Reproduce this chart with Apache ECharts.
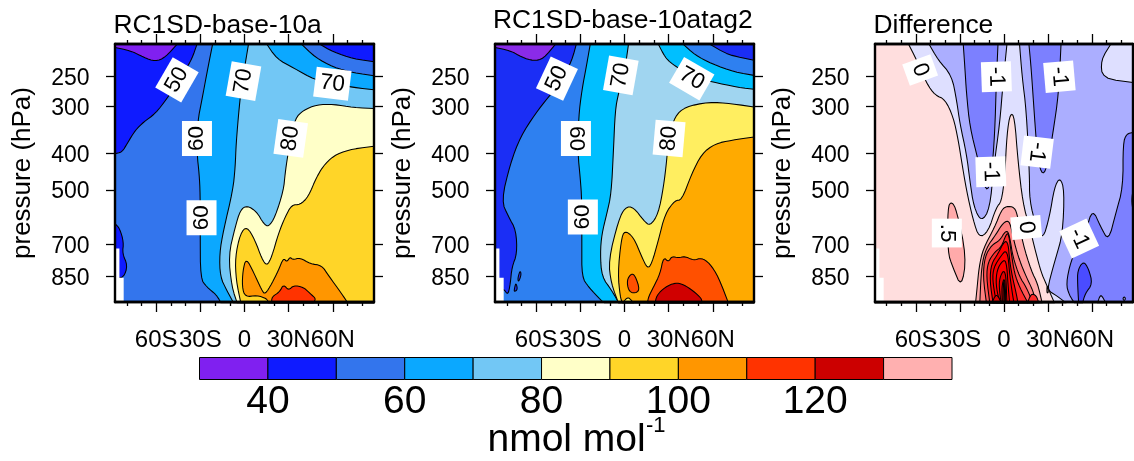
<!DOCTYPE html>
<html><head><meta charset="utf-8">
<style>html,body{margin:0;padding:0;background:#fff}#c{width:1134px;height:461px}</style>
<script src="https://cdn.jsdelivr.net/npm/echarts@6/dist/echarts.min.js"></script>
</head><body><div id="c"></div>
<script>
// ---------- data: each contour is a list of [latitude, pressure hPa] ----------
const pressureTicks=[250,300,400,500,700,850];
const latMajor=[-60,-30,0,30,60];
const latMajorLabels=['60S','30S','0','30N','60N'];
const latMinor=[-80,-70,-50,-40,-20,-10,10,20,40,50,70,80];
const missing=[[-88,717],[-85,717],[-85,857],[-82.1,857],[-82.1,1000],[-88,1000]];
const barLevels=[30,40,50,60,70,80,90,100,110,120,130,140];
const barTicks=[40,60,80,100,120];

// panel 1
const a50L=[[-32.3,205],[-35.7,224],[-40.3,240.5],[-45.9,261],[-52.7,286],[-60.6,313.5],[-68.5,330],[-74.2,347],[-79.8,377],[-83.2,397],[-88,401],[-88,205]];
const a50R=[[51.3,205],[60.4,215],[74,224],[88,228],[88,205]];
const a50S=[[-88,615],[-84.8,634],[-82.1,689],[-83,740],[-79.4,795],[-82.1,857],[-88,860]];
const a40=[[-88,209],[-77.6,213],[-68.5,222],[-60.6,228],[-53.8,222],[-45.9,205],[-88,205]];
const a60=[[-21.7,205],[-25.6,245],[-29,289],[-31.9,330],[-32.3,401],[-30.8,453],[-30.1,512],[-30.1,655],[-29.9,862],[-25.6,908],[-18.8,955],[-16.1,1000],[88,1000],[88,248.5],[74,244],[60.4,236],[48,222],[38.9,205]];
const a70=[[2.7,205],[.5,231],[-1.8,261],[-3.6,301],[-5.7,377],[-6.3,435],[-7.9,502],[-14.3,641],[-17,740],[-16.5,853],[-12,927],[-7.5,1000],[88,1000],[88,271],[74,267],[60.4,261],[48,255],[33.3,237],[21.9,224],[15.2,205]];
const a80=[[88,304],[74,302],[60.4,296],[49,297],[40,307],[34.4,323],[31.4,367],[29.2,409],[27.6,453],[26.5,502],[20.8,591],[16.3,628],[12.9,615],[8.4,573],[1.6,550],[-2.9,567],[-6.3,628],[-10.9,748],[-8.6,908],[-5,1000],[88,1000]];
const a90=[[88,383],[74,389],[62.7,401],[54.7,426],[49,462],[43.4,522],[37.8,548],[32.1,548],[27.6,591],[23,655],[18.5,755],[15.2,798],[11.8,763],[7.2,682],[1.6,625],[-2.9,655],[-6.3,755],[-5.7,871],[-2.5,1000],[88,1000]];
const a100=[[.5,965],[8.4,955],[15.2,975],[16.3,1000],[70.1,1000],[66,945],[57,845],[52.5,795],[44.6,787],[37.8,759],[32.8,768],[31,755],[28.7,779],[26.5,759],[23,820],[18.5,890],[14,950],[11.8,927],[6.1,828],[1.1,760],[-1.1,820],[-1.6,908]];
const a110=[[18.5,1000],[18.5,965],[23.8,936],[26.5,893],[29.9,927],[33.3,899],[40,908],[44.6,945],[48.6,975],[46.8,1000]];

// panel 2
const b50L=[[-32.8,205],[-35.7,226],[-42.5,255.6],[-51.6,283],[-60.6,313.5],[-70.8,362],[-77.6,426],[-83.7,535],[-78.7,591],[-73.7,641],[-73,740],[-76.5,803],[-77.6,890],[-79.2,955],[-82.1,917],[-88,917],[-88,205]];
const b50R=[[58.1,205],[70.6,219],[88,226],[88,205]];
const b50i1=[[-71,820],[-70.1,840],[-71.9,880],[-72.6,863]];
const b50i2=[[-73.7,885],[-72.6,922],[-75.1,936],[-74.6,908]];
const b40=[[-88,209],[-77.6,213],[-69.7,222],[-61.8,227],[-55,224],[-47,205],[-88,205]];
const b60=[[-23.3,205],[-25.6,231],[-29,272],[-31.2,320],[-31.7,401],[-30.1,463],[-29,533],[-29,696],[-29,853],[-24.4,908],[-15.4,990],[-13.6,1000],[88,1000],[88,248],[75,243],[59.3,231],[48,219],[40,205]];
const b70=[[2.7,205],[.5,236],[-4.1,277],[-6.3,307],[-7.5,393],[-9,512],[-12,579],[-15.4,655],[-16.5,740],[-15.4,853],[-8.6,927],[-4,1000],[88,1000],[88,270],[77.4,267],[59.3,258],[45.7,250],[32.1,231],[27.6,222],[23,205]];
const b80=[[88,301],[72.8,295],[57,292],[41.2,301],[34.4,318],[29.9,362],[28.7,418],[26.5,492],[23,579],[17.4,625],[12.9,603],[6.1,556],[.5,556],[-4.1,603],[-10.9,771],[-9,890],[-4.1,1000],[88,1000]];
const b90=[[88,362],[72.8,369],[61.5,377],[52.5,401],[45.7,453],[38.9,533],[34.4,533],[27.6,579],[23,682],[18.5,787],[15.6,811],[11.8,755],[6.1,668],[0,641],[-2.3,682],[-4.5,836],[-2.9,965],[-1.5,1000],[88,1000]];
const b90gap=[[-1,1000],[1,975],[3,968],[6.1,1000]];
const b100a=[[4.5,836],[7.2,845],[10.6,927],[6.1,945],[2.7,927],[1.6,871]];
const b100b=[[15.6,1000],[16.3,965],[19.7,908],[24.2,836],[26.5,755],[29.9,779],[32.1,752],[36.6,759],[41.2,752],[46.8,771],[52.5,759],[58.1,787],[63.8,853],[70.6,1000]];
const b110=[[20.8,1000],[21.9,955],[27.6,908],[34.4,884],[40,893],[46.8,930],[52.5,975],[52.5,1000]];

// panel 3: differences
const dN05=[[-88,205],[-51.1,205],[-44.8,226],[-35.7,248],[-32.3,289],[-30.1,333],[-25.6,401],[-23.3,472],[-20.6,556],[-15.4,609],[-9.7,562],[-7,435],[-2.9,333],[-.7,261],[2,205],[10.6,205],[12.4,250.5],[15.2,307],[17.4,453],[17.4,533],[21.9,628],[26.5,679],[31,591],[34.4,492],[38.2,463],[41.2,502],[40,655],[35.5,755],[31,871],[29.9,927],[35.5,955],[42.3,1000],[-88,1000]];
const dN05R=[[72.8,205],[66,226],[67.2,253],[88,259],[88,205]];
const dN1a=[[-27.8,205],[-26.7,236],[-25.6,277],[-23.3,340],[-17.6,418],[-12,514],[-8.6,463],[-6.3,355],[-5.2,256],[-4.1,205]];
const dN1b=[[17,205],[18.5,236],[20.8,320],[23,418],[26.5,460],[29.9,426],[33.3,355],[37.3,277],[38.9,205]];
const dN1c=[[88,352],[83.5,355],[81.2,377],[81.2,492],[76.2,579],[71.3,685],[66,628],[60.4,562],[55.9,641],[50.2,717],[45.7,771],[42.3,890],[44.6,955],[48,1000],[88,1000]];
const dN1gap1=[[63.8,1000],[66,945],[69.4,1000]];
const dN1gap2=[[81,975],[82,962],[83,975],[82,988]];
const dN1gap3=[[88,502],[87,533],[88,568]];
const dN15=[[54.1,774],[57.7,811],[60.4,890],[55.4,945],[53.6,1000],[50.9,1000],[50.2,890],[50.2,820]];
const dP0=[[-88,205],[-65.1,205],[-59.5,226],[-52.7,261],[-47,280],[-40.3,287],[-34.6,320],[-31.2,369],[-29,418],[-25.6,502],[-21,603],[-17,671],[-10.9,648],[-5.2,556],[-1.8,539],[.5,463],[2,355],[4.3,312],[7.2,320],[9.5,418],[12.9,544],[17.4,628],[21.9,740],[25.3,828],[28.7,890],[34.4,1000],[-88,1000]];
const dP0i=[[29.4,893],[30.5,935],[29.2,945]];
const dP05a=[[-35.7,537],[-32.3,567],[-25.6,755],[-29,912],[-35,803],[-38.4,733],[-38.4,556]];
const dP05b=[[-19.4,1000],[-18.3,908],[-17,803],[-14.3,719],[-6.3,628],[-1.8,567],[1.6,553],[7.2,556],[9.5,591],[12.9,696],[18.5,820],[23,890],[26,1000]];
const dP10=[[-16.5,1000],[-15.4,803],[-12.4,717],[-5.2,655],[-1.8,622],[2,603],[4.3,615],[7.2,696],[10.6,771],[15.2,853],[19.7,927],[21.9,1000]];
const dP15=[[-12,1000],[-14.3,853],[-13.1,755],[-8.6,703],[-2.9,682],[.5,648],[2.7,644],[4.3,682],[6.1,755],[10.6,853],[15.2,908],[19.7,1000]];
const dP20=[[-9.7,1000],[-12,853],[-10.9,779],[-6.3,732],[-1.8,710],[1.6,655],[3.2,655],[5,740],[7.2,836],[10.6,908],[16.3,1000]];
const dP20b=[[16,1000],[18.5,945],[21.9,955],[23.8,1000]];
const dP25=[[-7.5,1000],[-9.7,871],[-8.6,787],[-4.1,740],[.5,682],[2.9,696],[3.8,771],[5.7,853],[8.4,945],[9.5,1000]];
const dP30=[[-5.2,1000],[-7.9,871],[-7,803],[-1.8,748],[1.1,725],[2.9,755],[3.8,836],[5.7,945],[6.8,1000]];
const dP35=[[-4.1,965],[-5.7,871],[-4.1,803],[.5,763],[2,803],[2.7,890],[3.8,1000],[-1.8,1000]];
const dP40=[[-2.9,945],[-3.4,871],[-.7,820],[1.1,836],[1.6,908],[2,1000],[-1.8,1000]];
const dP45=[[-1.1,1000],[-1.6,908],[.2,853],[1.1,927],[1.1,1000]];
const dP50=[[-.6,1000],[-.5,890],[.2,870],[.5,1000]];
const dP30c=[[-8.2,1000],[-5.2,942],[-1.8,1000]];

// contour labels: [lat, pressure, text, rotation in degrees]
const labels1=[[-45.9,255,'50',60],[-.7,257,'70',80],[59.7,261,'70',-7],[-32.3,365,'60',90],[31.4,365,'80',82],[-29.2,594,'60',90]];
const labels2=[[-45.9,253,'50',65],[-2.5,248,'70',80],[45.7,253,'70',-30],[-33,365,'60',-90],[30.3,365,'80',85],[-28.3,591,'60',90]];
const labels3=[[-57.2,240,'0',-70],[-5.2,250,'-1',-88],[37.8,250,'-1',-85],[22.6,397,'-1',-97],[-9,448,'-1',-88],[-39,652,'.5',-90],[15.2,630,'0',-85],[51.3,674,'-1',-65]];

// ---------- colours ----------
const C1={c40:'#8020F0',c50:'#0F1BFF',c60:'#3375ED',c70:'#0BA8FF',c80:'#72C7F5',c90:'#FFFFC8',c100:'#FFD528',c110:'#FF9600',c120:'#FF3300',c130:'#CC0000'};
const C2={c40:'#8A2BE8',c50:'#1B2EF5',c60:'#2E80F0',c70:'#00BFFF',c80:'#A0D5F0',c90:'#FFEE60',c100:'#FFAA00',c110:'#FF5000',c120:'#D00000'};
const D={n2:'#4A4CFF',n15:'#7C80FF',n1:'#ABAEFF',n05:'#DEDFFF',p0:'#FFDEDE',p05:'#FFAAAA',p1:'#FF8080',p15:'#FF5555',p2:'#FF2A2A',p25:'#FF0000',p4:'#E00000'};
const barColors=['#8020F0','#0F1BFF','#3375ED','#0BA8FF','#72C7F5','#FFFFC8','#FFD528','#FF9600','#FF3300','#CC0000','#FFB0B0'];
const FULL=[[-88,205],[88,205],[88,1000],[-88,1000]];

const panels=[
 {left:115,width:259,title:'RC1SD-base-10a',titleTop:12.5,titleLeft:113.5,nameGap:79,labels:labels1,base:C1.c60,
  fills:[[C1.c50,a50L],[C1.c40,a40],[C1.c50,a50S],[C1.c70,a60],[C1.c50,a50R],[C1.c80,a70],[C1.c90,a80],[C1.c100,a90],[C1.c110,a100],[C1.c120,a110]]},
 {left:495,width:259,title:'RC1SD-base-10atag2',titleTop:7.5,titleLeft:493,nameGap:79,labels:labels2,base:C2.c60,
  fills:[[C2.c50,b50L],[C2.c50,b50i1],[C2.c50,b50i2],[C2.c40,b40],[C2.c70,b60],[C2.c50,b50R],[C2.c80,b70],[C2.c90,b80],[C2.c100,b90],[C2.c90,b90gap],[C2.c110,b100a],[C2.c110,b100b],[C2.c120,b110]]},
 {left:875,width:258,title:'Difference',titleTop:12.5,titleLeft:873.5,nameGap:79,labels:labels3,base:D.n1,
  fills:[[D.n05,dN05],[D.n05,dN05R],[D.n15,dN1a],[D.n15,dN1b],[D.n15,dN1c],[D.n1,dN1gap1],[D.n1,dN1gap2],[D.n1,dN1gap3],[D.n2,dN15],[D.p0,dP0],[D.p0,dP0i],[D.p05,dP05a],[D.p05,dP05b],[D.p1,dP10],[D.p15,dP15],[D.p2,dP20],[D.p2,dP20b],[D.p25,dP25],[D.p25,dP30],[D.p25,dP35],[D.p4,dP40],[D.p4,dP45],[D.p4,dP50],[D.p4,dP30c]]}
];

const FONT='"Liberation Sans",Arial,sans-serif';

function smoothPts(pts,frame,n){
  for(let k=0;k<n;k++){
    const out=[],fl=[],N=pts.length;
    for(let i=0;i<N;i++){
      const v=pts[i],a=pts[(i+N-1)%N],b=pts[(i+1)%N];
      if(frame[i]){out.push(v);fl.push(true);continue;}
      out.push([.75*v[0]+.25*a[0],.75*v[1]+.25*a[1]]);fl.push(false);
      out.push([.75*v[0]+.25*b[0],.75*v[1]+.25*b[1]]);fl.push(false);
    }
    pts=out;frame=fl;
  }
  return pts;
}
function polyRender(list){
  return function(params,api){
    const idx=api.value(2);
    const item=list[idx];
    const raw=item.pts;
    const pts=raw.map(p=>api.coord(p));
    const frame=raw.map(p=>Math.abs(p[0])>=88||p[1]<=205||p[1]>=1000);
    return {type:'polygon',shape:{points:item.smooth===false?pts:smoothPts(pts,frame,2)},
      style:{fill:item.color,stroke:item.stroke===false?null:'#000',lineWidth:1.05,lineJoin:'round'}};
  };
}
function labelRender(list){
  return function(params,api){
    const l=list[api.value(2)];
    const c=api.coord([l[0],l[1]]);
    return {type:'text',x:c[0],y:c[1],rotation:l[3]*Math.PI/180,z2:50,
      style:{text:l[2],font:'22.5px '+FONT,fill:'#000',align:'center',verticalAlign:'middle',
             backgroundColor:'#fff',padding:[4,5,3,5]}};
  };
}

const grids=[],xAxes=[],yAxes=[],series=[],titles=[];
const tickLine={show:true,lineStyle:{color:'#000',width:2.4}};
panels.forEach((P,i)=>{
  grids.push({left:P.left,width:P.width,top:44,height:258,containLabel:false});
  const base={type:'value',gridIndex:i,min:-88,max:88,z:10,splitLine:{show:false},axisLine:{...tickLine,onZero:false}};
  const xStart=xAxes.length;
  xAxes.push({...base,position:'bottom',
    axisTick:{show:true,customValues:latMajor,length:10,inside:false,lineStyle:{color:'#000',width:1.3}},
    axisLabel:{show:true,customValues:latMajor,margin:26,fontSize:24,fontFamily:FONT,color:'#000',hideOverlap:false,
      formatter:v=>latMajorLabels[latMajor.indexOf(v)]}});
  xAxes.push({...base,position:'top',
    axisTick:{show:true,customValues:latMajor,length:10,lineStyle:{color:'#000',width:1.3}},axisLabel:{show:false}});
  xAxes.push({...base,position:'bottom',
    axisTick:{show:true,customValues:latMinor,length:4,lineStyle:{color:'#000',width:1.3}},axisLabel:{show:false}});
  xAxes.push({...base,position:'top',
    axisTick:{show:true,customValues:latMinor,length:4,lineStyle:{color:'#000',width:1.3}},axisLabel:{show:false}});
  const yb={type:'log',logBase:10,gridIndex:i,min:204.6,max:995,inverse:true,z:10,splitLine:{show:false},minorTick:{show:false},axisLine:{...tickLine,onZero:false}};
  const yStart=yAxes.length;
  yAxes.push({...yb,position:'left',name:'pressure (hPa)',nameLocation:'middle',nameGap:P.nameGap,nameRotate:90,
    nameTextStyle:{fontSize:26,fontFamily:FONT,color:'#000'},
    axisTick:{show:true,customValues:pressureTicks,length:9,lineStyle:{color:'#000',width:1.3}},
    axisLabel:{show:true,customValues:pressureTicks,margin:25.5,hideOverlap:false,
      formatter:v=>'{a|'+Math.round(v)+'}',
      rich:{a:{fontSize:23,fontFamily:FONT,color:'#000',padding:[4,0,0,0]}}}});
  yAxes.push({...yb,position:'right',
    axisTick:{show:true,customValues:pressureTicks,length:9,lineStyle:{color:'#000',width:1.3}},axisLabel:{show:false}});

  const list=[{pts:FULL,color:P.base,stroke:false,smooth:false}]
    .concat(P.fills.map(f=>({pts:f[1],color:f[0]})))
    .concat([{pts:missing,color:'#fff',stroke:false,smooth:false}]);
  series.push({type:'custom',coordinateSystem:'cartesian2d',xAxisIndex:xStart,yAxisIndex:yStart,z:2,silent:true,
    encode:{x:0,y:1},renderItem:polyRender(list),data:list.map((it,k)=>[it.pts[0][0],it.pts[0][1],k]),animation:false});
  series.push({type:'custom',coordinateSystem:'cartesian2d',xAxisIndex:xStart,yAxisIndex:yStart,z:5,silent:true,
    encode:{x:0,y:1},renderItem:labelRender(P.labels),data:P.labels.map((l,k)=>[l[0],l[1],k]),animation:false});
  titles.push({text:P.title,left:P.titleLeft,top:P.titleTop,textStyle:{fontSize:26.4,fontWeight:'normal',fontFamily:FONT,color:'#000'},padding:0});
});

// colour bar
const bi=panels.length;
grids.push({left:199.5,width:752.5,top:357.5,height:22});
xAxes.push({type:'value',gridIndex:bi,min:30,max:140,position:'bottom',z:3,splitLine:{show:false},axisLine:{show:false},axisTick:{show:false},
  axisLabel:{show:true,customValues:barTicks,margin:3,fontSize:39,fontFamily:FONT,color:'#000',hideOverlap:false}});
yAxes.push({type:'value',gridIndex:bi,min:0,max:1,show:false});
series.push({type:'custom',coordinateSystem:'cartesian2d',xAxisIndex:xAxes.length-1,yAxisIndex:yAxes.length-1,z:2,silent:true,animation:false,
  encode:{x:0},data:barColors.map((c,k)=>[barLevels[k],barLevels[k+1],k]),
  renderItem:function(params,api){
    const a=api.coord([api.value(0),1]),b=api.coord([api.value(1),0]);
    return {type:'rect',shape:{x:a[0],y:a[1],width:b[0]-a[0],height:b[1]-a[1]},
      style:{fill:barColors[api.value(2)],stroke:'#000',lineWidth:1}};
  }});
titles.push({text:'nmol mol',left:487.5,top:421,padding:0,textStyle:{fontSize:39,fontWeight:'normal',fontFamily:FONT,color:'#000'}});
titles.push({text:'-1',left:646,top:415,padding:0,textStyle:{fontSize:22,fontWeight:'normal',fontFamily:FONT,color:'#000'}});

const chart=echarts.init(document.getElementById('c'),null,{renderer:'canvas'});
chart.setOption({animation:false,backgroundColor:'#fff',title:titles,grid:grids,xAxis:xAxes,yAxis:yAxes,series:series});
</script></body></html>
